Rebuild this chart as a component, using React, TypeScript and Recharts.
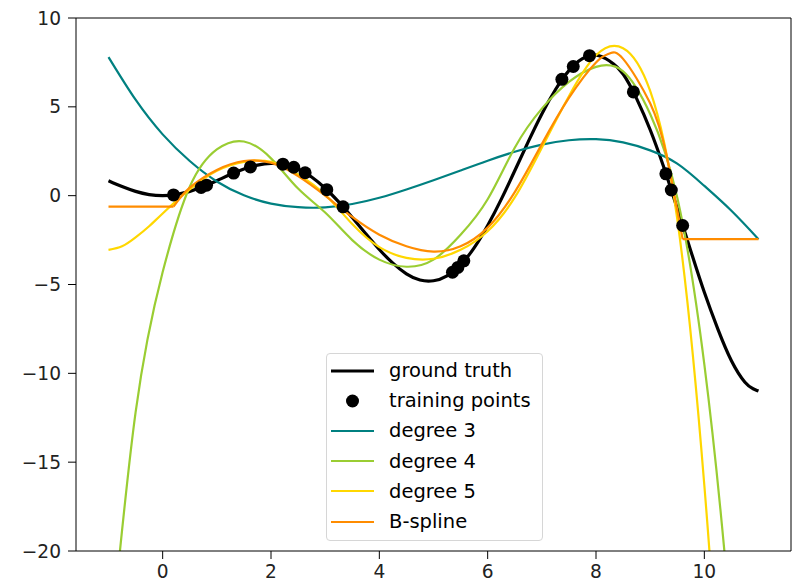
import React from "react";
import {
  ComposedChart,
  Line,
  Scatter,
  XAxis,
  YAxis,
  ReferenceLine,
  Legend,
} from "recharts";

// ground truth curve
const truthX = [
  -1, -0.75, -0.5, -0.25, 0, 0.25, 0.5, 0.75, 1, 1.25, 1.5, 1.75, 2, 2.25, 2.5, 2.75, 3, 3.25, 3.5, 3.75, 4,
  4.25, 4.5, 4.75, 5, 5.25, 5.5, 5.75, 6, 6.25, 6.5, 6.75, 7, 7.25, 7.5, 7.75, 8, 8.25, 8.5, 8.75, 9, 9.25,
  9.5, 9.75, 10, 10.25, 10.5, 10.75, 10.9, 10.95, 11,
];
const truthY = [
  0.84, 0.51, 0.24, 0.06, 0, 0.06, 0.24, 0.51, 0.84, 1.19, 1.5, 1.72, 1.82, 1.75, 1.5, 1.05, 0.42, -0.35,
  -1.23, -2.14, -3.03, -3.8, -4.4, -4.75, -4.79, -4.51, -3.89, -2.94, -1.68, -0.21, 1.4, 3.04, 4.6, 5.96,
  7.04, 7.71, 7.91, 7.58, 6.85, 5.46, 3.71, 1.61, -0.72, -3.11, -5.44, -7.51, -9.29, -10.5, -10.87, -10.94, -11.0,
];

// training points
const trainX = [0.2, 0.71, 0.81, 1.31, 1.62, 2.22, 2.42, 2.63, 3.03, 3.33, 5.35, 5.45, 5.56, 7.37, 7.58, 7.88, 8.69, 9.29, 9.39, 9.6];
const trainY = [0.04, 0.46, 0.59, 1.27, 1.62, 1.77, 1.6, 1.29, 0.34, -0.63, -4.31, -4.04, -3.67, 6.55, 7.27, 7.88, 5.84, 1.23, 0.32, -1.68];

// polynomial fits, sampled on a common grid
const polyX = [-1, -0.5, 0, 0.5, 1, 1.5, 2, 2.5, 3, 3.5, 4, 4.5, 5, 5.5, 6, 6.5, 7, 7.5, 8, 8.5, 9, 9.5, 10, 10.5, 11];
const deg3Y = [7.8, 5.4, 3.45, 1.95, 0.8, 0.02, -0.45, -0.65, -0.66, -0.47, -0.12, 0.35, 0.87, 1.42, 1.97, 2.47, 2.87, 3.12, 3.18, 3.0, 2.55, 1.8, 0.55, -0.85, -2.45];
const deg4Y = [-26.5, -12.2, -4.3, 0.5, 2.6, 3.05, 2.1, 0.4, -0.95, -2.5, -3.6, -4.0, -3.6, -2.2, -0.2, 2.7, 4.9, 6.4, 7.25, 7.0, 4.6, -0.1, -9.5, -24.5, -45];
const deg5X = [-1, -0.75, -0.5, -0.25, 0, 0.5, 1, 1.5, 2, 2.5, 3, 3.5, 4, 4.5, 5, 5.5, 6, 6.5, 7, 7.5, 8, 8.5, 9, 9.5, 10, 10.5, 11];
const deg5Y = [-3.05, -2.85, -2.35, -1.72, -1.0, 0.35, 1.4, 1.9, 1.9, 1.2, 0.05, -1.6, -2.9, -3.5, -3.55, -3.05, -2.0, -0.1, 2.7, 5.6, 7.9, 8.3, 5.9, -1.3, -16.3, -40, -75];

// B-spline fit: flat outside the training range
const splineX = [0.2, 0.5, 1, 1.5, 2, 2.5, 3, 3.5, 4, 4.5, 5, 5.5, 6, 6.5, 7, 7.5, 8, 8.25, 8.5, 9, 9.3, 9.6];
const splineY = [-0.62, 0.45, 1.45, 1.95, 1.85, 1.1, 0.0, -1.2, -2.2, -2.85, -3.15, -2.85, -1.8, 0.2, 2.9, 5.5, 7.5, 8.0, 7.7, 5.2, 2.3, -2.45];
const splineLeftX = [-1, 0.2];
const splineLeftY = [-0.62, -0.62];
const splineRightX = [9.6, 11];
const splineRightY = [-2.45, -2.45];

const xTicks = [0, 2, 4, 6, 8, 10];
const yTicks = [-20, -15, -10, -5, 0, 5, 10];

const zip = (xs: number[], ys: number[]) => xs.map((x, i) => ({ x, y: ys[i] }));

const FONT = "'DejaVu Sans', sans-serif";

const legendItems = [
  { label: "ground truth", color: "#000000", kind: "line", width: 3.2 },
  { label: "training points", color: "#000000", kind: "dot", width: 0 },
  { label: "degree 3", color: "#008080", kind: "line", width: 2.2 },
  { label: "degree 4", color: "#9acd32", kind: "line", width: 2.2 },
  { label: "degree 5", color: "#ffd700", kind: "line", width: 2.2 },
  { label: "B-spline", color: "#ff8c00", kind: "line", width: 2.2 },
];

const fmt = (v: number) => (v < 0 ? `\u2212${Math.abs(v)}` : `${v}`);

const renderLegend = () => (
  <div
    style={{
      width: 217,
      height: 188,
      boxSizing: "border-box",
      border: "1px solid #d6d6d6",
      borderRadius: 4,
      background: "rgba(255,255,255,0.85)",
      paddingTop: 1.6,
      fontFamily: FONT,
      fontSize: 19.5,
      color: "#000",
    }}
  >
    {legendItems.map((item) => (
      <div key={item.label} style={{ height: 30.2, display: "flex", alignItems: "center" }}>
        <svg width={62} height={30} style={{ flex: "none" }}>
          {item.kind === "line" ? (
            <line x1={4} x2={47} y1={15} y2={15} stroke={item.color} strokeWidth={item.width} />
          ) : (
            <circle cx={25.5} cy={15} r={6.5} fill={item.color} />
          )}
        </svg>
        <span style={{ whiteSpace: "nowrap", lineHeight: 1 }}>{item.label}</span>
      </div>
    ))}
  </div>
);

const App = () => {
  return (
    <div style={{ position: "absolute", left: 0, top: 0, width: 792, height: 583, background: "#fff" }}>
      <ComposedChart width={792} height={583} margin={{ top: 18, right: 1, bottom: 2, left: 16 }}>
        <XAxis
          type="number"
          dataKey="x"
          domain={[-1.6, 11.6]}
          ticks={xTicks}
          allowDataOverflow
          height={30}
          tickSize={8}
          tickMargin={6}
          stroke="#000"
          tick={{ fill: "#222", fontSize: 18.6, fontFamily: FONT }}
          tickFormatter={fmt}
        />
        <YAxis
          type="number"
          dataKey="y"
          domain={[-20, 10]}
          ticks={yTicks}
          allowDataOverflow
          width={60}
          tickSize={8}
          tickMargin={7}
          stroke="#000"
          tick={{ fill: "#222", fontSize: 18.6, fontFamily: FONT }}
          tickFormatter={fmt}
        />
        <ReferenceLine y={10} stroke="#000" strokeWidth={1} />
        <ReferenceLine x={11.6} stroke="#000" strokeWidth={1} />
        <Line data={zip(truthX, truthY)} dataKey="y" type="natural" stroke="#000" strokeWidth={3.2} dot={false} isAnimationActive={false} name="ground truth" />
        <Scatter
          data={zip(trainX, trainY)}
          dataKey="y"
          fill="#000"
          isAnimationActive={false}
          name="training points"
          shape={(p: any) => <circle cx={p.cx} cy={p.cy} r={6.5} fill="#000" />}
        />
        <Line data={zip(polyX, deg3Y)} dataKey="y" type="natural" stroke="#008080" strokeWidth={2.2} dot={false} isAnimationActive={false} name="degree 3" />
        <Line data={zip(polyX, deg4Y)} dataKey="y" type="natural" stroke="#9acd32" strokeWidth={2.2} dot={false} isAnimationActive={false} name="degree 4" />
        <Line data={zip(deg5X, deg5Y)} dataKey="y" type="natural" stroke="#ffd700" strokeWidth={2.2} dot={false} isAnimationActive={false} name="degree 5" />
        <Line data={zip(splineLeftX, splineLeftY)} dataKey="y" type="linear" stroke="#ff8c00" strokeWidth={2.2} dot={false} isAnimationActive={false} legendType="none" />
        <Line data={zip(splineX, splineY)} dataKey="y" type="natural" stroke="#ff8c00" strokeWidth={2.2} dot={false} isAnimationActive={false} name="B-spline" />
        <Line data={zip(splineRightX, splineRightY)} dataKey="y" type="linear" stroke="#ff8c00" strokeWidth={2.2} dot={false} isAnimationActive={false} legendType="none" />
        <Legend
          layout="vertical"
          align="center"
          verticalAlign="middle"
          content={renderLegend}
          wrapperStyle={{ left: 326, top: 353, width: 217, height: 188 }}
        />
      </ComposedChart>
    </div>
  );
};

export default App;
